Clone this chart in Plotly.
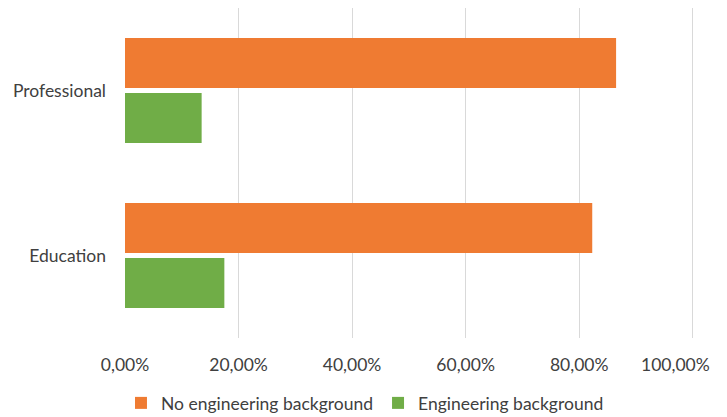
import plotly.graph_objects as go

categories = ["Professional", "Education"]
no_eng = [0.865, 0.823]
eng = [0.135, 0.175]
series_names = ["No engineering background", "Engineering background"]
tick_vals = [0, 0.2, 0.4, 0.6, 0.8, 1.0]
tick_text = ["0,00%", "20,00%", "40,00%", "60,00%", "80,00%", "100,00%"]

ORANGE = "#EF7B32"
GREEN = "#70AD47"
TEXT = "#404040"
FONT = "Lato"
FSIZE = 17.5

fig = go.Figure()
fig.add_trace(go.Bar(
    y=categories, x=no_eng, name=series_names[0], orientation="h",
    marker=dict(color=ORANGE, line=dict(width=0)),
))
fig.add_trace(go.Bar(
    y=categories, x=eng, name=series_names[1], orientation="h",
    marker=dict(color=GREEN, line=dict(width=0)),
))

# The last axis label is drawn as an annotation, nudged left so it stays on the canvas.
axis_labels = tick_text[:-1] + [""]
fig.add_annotation(
    x=tick_vals[-1], xref="x", y=0, yref="paper", yanchor="top",
    xanchor="center", xshift=-17, yshift=-14,
    text=tick_text[-1], showarrow=False,
    font=dict(family=FONT, size=FSIZE, color=TEXT),
)

fig.update_layout(
    width=727, height=417,
    margin=dict(l=124.5, r=31.7, t=8, b=79, autoexpand=False),
    paper_bgcolor="white", plot_bgcolor="white",
    barmode="group", bargap=0.333, bargroupgap=0.09,
    font=dict(family=FONT, size=FSIZE, color=TEXT),
    showlegend=True,
    legend=dict(
        orientation="h", x=0.421, xanchor="center", y=-0.197, yanchor="middle",
        font=dict(family=FONT, size=FSIZE, color=TEXT),
        itemwidth=30, tracegroupgap=0,
    ),
    xaxis=dict(
        range=[0, 1.004], tickmode="array", tickvals=tick_vals, ticktext=axis_labels,
        showgrid=True, gridcolor="#D9D9D9", gridwidth=1,
        zeroline=False, showline=False, ticks="",
        ticklabelstandoff=14,
        tickfont=dict(family=FONT, size=FSIZE, color=TEXT),
    ),
    yaxis=dict(
        autorange="reversed", showgrid=False, zeroline=False, showline=False,
        ticks="", ticklabelstandoff=18,
        tickfont=dict(family=FONT, size=FSIZE, color=TEXT),
    ),
)

fig.write_html("out.html")
